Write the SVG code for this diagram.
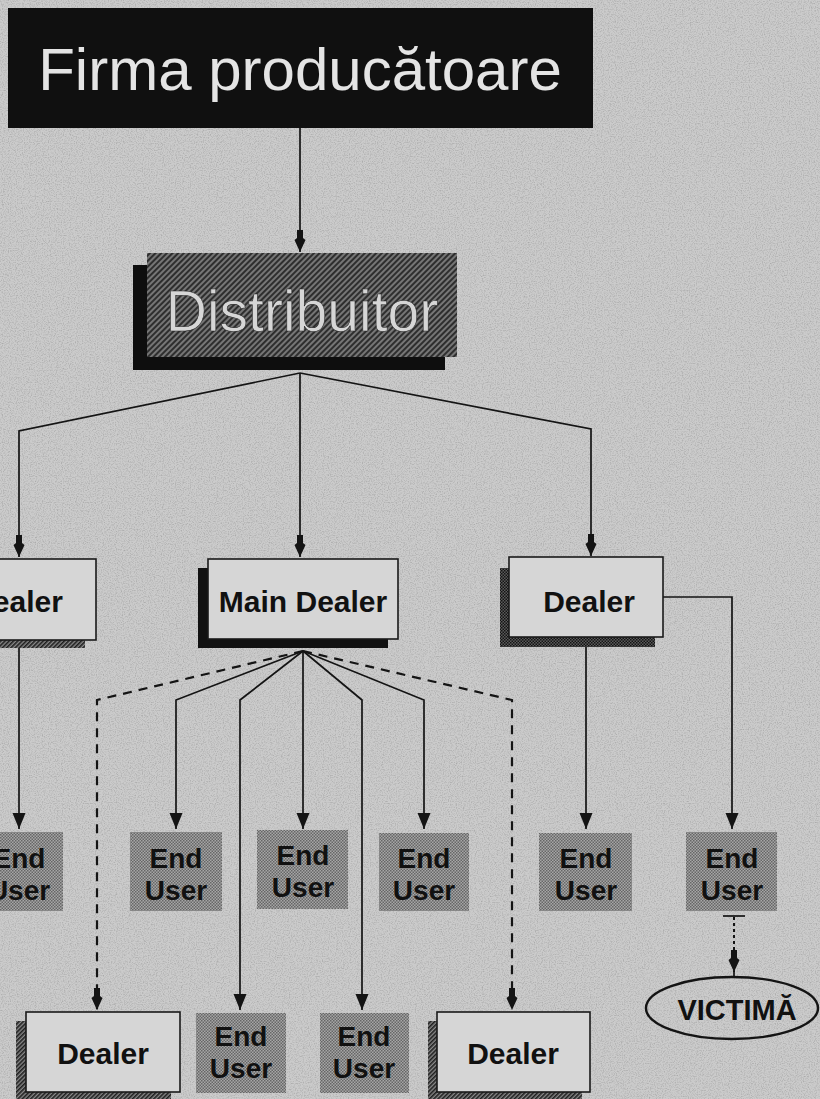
<svg xmlns="http://www.w3.org/2000/svg" width="820" height="1099" viewBox="0 0 820 1099">
  <defs>
    <style>
      .ln { fill: none; stroke: #141414; stroke-width: 1.7; }
      .dash { stroke-dasharray: 9 7; stroke-width: 2.2; }
      .dot { stroke-dasharray: 3 3; stroke-width: 2; }
      .box { fill: #d6d6d6; stroke: #1a1a1a; stroke-width: 1.6; }
      .eu { fill: url(#checker); }
      .lbl { font-family: "Liberation Sans", Arial, sans-serif; font-weight: bold; fill: #111; text-anchor: middle; }
      .big { font-family: "Liberation Sans", Arial, sans-serif; text-anchor: middle; }
    </style>
    <!-- halftone dot fill used on the End User tiles -->
    <pattern id="checker" patternUnits="userSpaceOnUse" width="3" height="3">
      <rect width="3" height="3" fill="#a6a6a6"/>
      <rect width="1.5" height="1.5" fill="#666"/>
      <rect x="1.5" y="1.5" width="1.5" height="1.5" fill="#666"/>
    </pattern>
    <!-- diagonal screen of the Distributor box -->
    <pattern id="stripes" patternUnits="userSpaceOnUse" width="4" height="4" patternTransform="rotate(-45)">
      <rect width="4" height="4" fill="#767676"/>
      <rect width="4" height="2" fill="#2e2e2e"/>
    </pattern>
    <!-- hatched drop shadows -->
    <pattern id="hatch" patternUnits="userSpaceOnUse" width="3" height="3" patternTransform="rotate(-45)">
      <rect width="3" height="3" fill="#8a8a8a"/>
      <rect width="3" height="1.6" fill="#1e1e1e"/>
    </pattern>
    <pattern id="darkcheck" patternUnits="userSpaceOnUse" width="3" height="3">
      <rect width="3" height="3" fill="#5a5a5a"/>
      <rect width="1.5" height="1.5" fill="#141414"/>
      <rect x="1.5" y="1.5" width="1.5" height="1.5" fill="#141414"/>
    </pattern>
    <marker id="arrow" markerUnits="userSpaceOnUse" markerWidth="20" markerHeight="16" viewBox="-17 -8 18 16" refX="0" refY="0" orient="auto">
      <path d="M0,0 L-16,-6.5 L-16,6.5 Z" fill="#141414"/>
    </marker>
    <marker id="barb" markerUnits="userSpaceOnUse" markerWidth="26" markerHeight="16" viewBox="-23 -8 24 16" refX="0" refY="0" orient="auto">
      <path d="M0,0 L-12,-5.5 L-14,-3 L-22,-3 L-22,3 L-14,3 L-12,5.5 Z" fill="#141414"/>
    </marker>
    <filter id="grain" x="0" y="0" width="100%" height="100%">
      <feTurbulence type="fractalNoise" baseFrequency="0.85" numOctaves="2" seed="7" result="n"/>
      <feColorMatrix in="n" type="matrix" values="0 0 0 0 0.1  0 0 0 0 0.1  0 0 0 0 0.1  0 0 0 -2.2 1.25"/>
    </filter>
  </defs>

  <!-- paper -->
  <rect width="820" height="1099" fill="#cbcbcb"/>
  <rect width="820" height="1099" filter="url(#grain)" opacity="0.28"/>

  <!-- connectors -->
  <g id="connectors">
    <line class="ln" x1="300" y1="128" x2="300" y2="252" marker-end="url(#barb)"/>
    <polyline class="ln" points="300,373 19,431 19,557" marker-end="url(#barb)"/>
    <line class="ln" x1="300" y1="373" x2="300" y2="557" marker-end="url(#barb)"/>
    <polyline class="ln" points="300,373 591,429 591,556" marker-end="url(#barb)"/>

    <line class="ln" x1="19" y1="648" x2="19" y2="829" marker-end="url(#arrow)"/>

    <polyline class="ln dash" points="303,651 97,700 97,1010" marker-end="url(#barb)"/>
    <polyline class="ln" points="303,651 176,700 176,829" marker-end="url(#arrow)"/>
    <polyline class="ln" points="303,651 240,700 240,1010" marker-end="url(#arrow)"/>
    <line class="ln" x1="303" y1="651" x2="303" y2="829" marker-end="url(#arrow)"/>
    <polyline class="ln" points="303,651 362,700 362,1010" marker-end="url(#arrow)"/>
    <polyline class="ln" points="303,651 424,700 424,829" marker-end="url(#arrow)"/>
    <polyline class="ln dash" points="303,651 512,700 512,1010" marker-end="url(#barb)"/>

    <line class="ln" x1="586" y1="647" x2="586" y2="829" marker-end="url(#arrow)"/>
    <polyline class="ln" points="663,597 732,597 732,829" marker-end="url(#arrow)"/>

    <line class="ln" x1="723" y1="916" x2="745" y2="916"/>
    <line class="ln dot" x1="734" y1="917" x2="734" y2="972" marker-end="url(#barb)"/>
    <line class="ln" x1="734" y1="970" x2="734" y2="977"/>
  </g>

  <!-- nodes -->
  <g id="firma">
    <rect x="8" y="8" width="585" height="120" fill="#101010"/>
    <text class="big" x="300" y="90" font-size="60" fill="#e4e4e4">Firma producătoare</text>
  </g>

  <g id="distribuitor">
    <rect x="133" y="265" width="312" height="105" fill="#0e0e0e"/>
    <rect x="147" y="253" width="310" height="104" fill="url(#stripes)"/>
    <text class="big" x="302" y="331" font-size="57" fill="#d6d6d6" stroke="#2a2a2a" stroke-width="0.6">Distribuitor</text>
  </g>

  <g id="dealer-left">
    <rect x="0" y="640" width="85" height="8" fill="url(#hatch)"/>
    <rect class="box" x="-60" y="559" width="156" height="81"/>
    <text class="lbl" x="17" y="612" font-size="30">Dealer</text>
  </g>

  <g id="main-dealer">
    <rect x="198" y="568" width="190" height="80" fill="#111"/>
    <rect class="box" x="208" y="559" width="190" height="80"/>
    <text class="lbl" x="303" y="612" font-size="30">Main Dealer</text>
  </g>

  <g id="dealer-right">
    <rect x="500" y="568" width="155" height="79" fill="url(#darkcheck)"/>
    <rect class="box" x="509" y="557" width="154" height="80"/>
    <text class="lbl" x="589" y="612" font-size="30">Dealer</text>
  </g>

  <g id="end-user-1">
    <rect class="eu" x="-30" y="832" width="93" height="79"/>
    <text class="lbl" font-size="28"><tspan x="19" y="868">End</tspan><tspan x="19" y="900">User</tspan></text>
  </g>
  <g id="end-user-2">
    <rect class="eu" x="130" y="832" width="92" height="79"/>
    <text class="lbl" font-size="28"><tspan x="176" y="868">End</tspan><tspan x="176" y="900">User</tspan></text>
  </g>
  <g id="end-user-3">
    <rect class="eu" x="257" y="830" width="91" height="79"/>
    <text class="lbl" font-size="28"><tspan x="303" y="865">End</tspan><tspan x="303" y="897">User</tspan></text>
  </g>
  <g id="end-user-4">
    <rect class="eu" x="379" y="833" width="90" height="78"/>
    <text class="lbl" font-size="28"><tspan x="424" y="868">End</tspan><tspan x="424" y="900">User</tspan></text>
  </g>
  <g id="end-user-5">
    <rect class="eu" x="539" y="833" width="93" height="78"/>
    <text class="lbl" font-size="28"><tspan x="586" y="868">End</tspan><tspan x="586" y="900">User</tspan></text>
  </g>
  <g id="end-user-6">
    <rect class="eu" x="686" y="832" width="91" height="79"/>
    <text class="lbl" font-size="28"><tspan x="732" y="868">End</tspan><tspan x="732" y="900">User</tspan></text>
  </g>

  <g id="victima">
    <ellipse cx="732" cy="1008" rx="86" ry="31" fill="none" stroke="#141414" stroke-width="2.4"/>
    <text class="lbl" x="737" y="1020" font-size="29">VICTIMĂ</text>
  </g>

  <g id="dealer-bottom-left">
    <rect x="16" y="1021" width="155" height="78" fill="url(#hatch)"/>
    <rect class="box" x="26" y="1012" width="154" height="80"/>
    <text class="lbl" x="103" y="1064" font-size="30">Dealer</text>
  </g>
  <g id="end-user-7">
    <rect class="eu" x="196" y="1013" width="90" height="80"/>
    <text class="lbl" font-size="28"><tspan x="241" y="1046">End</tspan><tspan x="241" y="1078">User</tspan></text>
  </g>
  <g id="end-user-8">
    <rect class="eu" x="320" y="1013" width="89" height="80"/>
    <text class="lbl" font-size="28"><tspan x="364" y="1046">End</tspan><tspan x="364" y="1078">User</tspan></text>
  </g>
  <g id="dealer-bottom-right">
    <rect x="428" y="1021" width="154" height="78" fill="url(#hatch)"/>
    <rect class="box" x="437" y="1012" width="153" height="80"/>
    <text class="lbl" x="513" y="1064" font-size="30">Dealer</text>
  </g>
</svg>
